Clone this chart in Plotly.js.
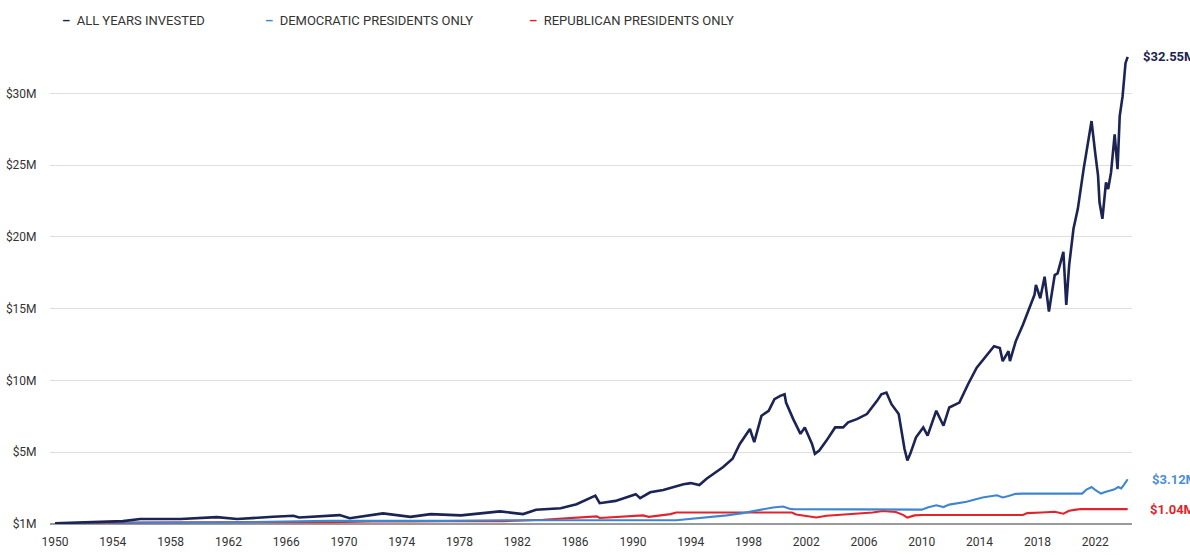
<!DOCTYPE html>
<html>
<head>
<meta charset="utf-8">
<script src="https://cdn.plot.ly/plotly-3.0.1.min.js"></script>
<style>html,body{margin:0;padding:0;background:#fff;}#chart{width:1190px;height:555px;}</style>
</head>
<body>
<div id="chart"></div>
<script>
// ---- data (values in $ millions, x in decimal years) ----
const yearsAll = [1950.0, 1952.0, 1954.7, 1955.9, 1958.7, 1961.2, 1962.6, 1965.1, 1966.5, 1966.9,
  1969.7, 1970.4, 1972.7, 1974.6, 1976.0, 1978.1, 1980.8, 1982.4, 1983.3, 1985.0,
  1986.1, 1987.4, 1987.7, 1988.8, 1990.2, 1990.5, 1991.2, 1992.1, 1993.5, 1994.0,
  1994.6, 1995.1, 1996.25, 1996.9, 1997.4, 1998.1, 1998.4, 1998.9, 1999.4, 1999.8,
  2000.2, 2000.5, 2000.6, 2001.1, 2001.6, 2001.9, 2002.4, 2002.6, 2002.9, 2003.4,
  2004.0, 2004.55, 2004.9, 2005.5, 2006.2, 2006.9, 2007.2, 2007.55, 2007.9, 2008.4,
  2008.6, 2008.8, 2009.0, 2009.2, 2009.6, 2010.1, 2010.4, 2011.0, 2011.5, 2011.9,
  2012.6, 2013.2, 2013.8, 2014.5, 2015.0, 2015.4, 2015.6, 2016.0, 2016.1, 2016.5,
  2017.0, 2017.8, 2017.9, 2018.2, 2018.5, 2018.8, 2019.2, 2019.4, 2019.8, 2020.0,
  2020.2, 2020.5, 2020.8, 2021.2, 2021.5, 2021.75, 2022.0, 2022.2, 2022.3, 2022.5,
  2022.75, 2022.9, 2023.1, 2023.35, 2023.55, 2023.7, 2023.9, 2024.1, 2024.25];
const valuesAll = [0.05, 0.12, 0.2, 0.35, 0.35, 0.48, 0.35, 0.5, 0.57, 0.45,
  0.62, 0.4, 0.74, 0.5, 0.69, 0.6, 0.88, 0.69, 0.99, 1.1,
  1.38, 1.98, 1.45, 1.61, 2.08, 1.8, 2.21, 2.37, 2.77, 2.85,
  2.72, 3.16, 3.97, 4.55, 5.58, 6.62, 5.7, 7.54, 7.89, 8.7,
  8.93, 9.04, 8.46, 7.31, 6.28, 6.73, 5.58, 4.89, 5.12, 5.81,
  6.73, 6.73, 7.08, 7.31, 7.66, 8.58, 9.04, 9.16, 8.35, 7.66,
  6.28, 5.24, 4.43, 4.89, 6.04, 6.73, 6.16, 7.89, 6.85, 8.12,
  8.46, 9.74, 10.89, 11.81, 12.39, 12.27, 11.35, 12.04, 11.35, 12.73,
  13.89, 15.97, 16.66, 15.73, 17.23, 14.81, 17.35, 17.46, 18.96, 15.27,
  18.04, 20.57, 21.96, 24.73, 26.57, 28.08, 25.88, 24.27, 22.42, 21.27,
  23.81, 23.34, 24.5, 27.15, 24.73, 28.42, 29.81, 32.11, 32.55];

const yearsDem = [1950, 1953, 1961, 1966, 1969, 1977, 1981, 1993, 1995.3, 1996.5,
  1997.6, 1998.8, 1999.7, 2000.4, 2000.9, 2001.1, 2009.1, 2010.0, 2010.4, 2011.0,
  2011.5, 2011.9, 2013.1, 2014.2, 2015.2, 2015.6, 2016.0, 2016.5, 2017.0, 2021.1,
  2021.4, 2021.75, 2022.0, 2022.4, 2022.75, 2023.3, 2023.6, 2023.8, 2024.0, 2024.25];
const valuesDem = [0.05, 0.1, 0.1, 0.2, 0.22, 0.22, 0.26, 0.26, 0.46, 0.6,
  0.76, 1.0, 1.15, 1.22, 1.05, 1.04, 1.04, 1.0, 1.15, 1.3,
  1.18, 1.35, 1.55, 1.85, 2.0, 1.85, 1.95, 2.1, 2.12, 2.12,
  2.4, 2.58, 2.38, 2.12, 2.24, 2.4, 2.58, 2.48, 2.75, 3.12];

const yearsRep = [1950, 1953, 1957, 1961, 1969, 1973, 1974.6, 1977, 1981, 1983.8,
  1985.4, 1987.5, 1987.7, 1989.5, 1990.7, 1991.1, 1992.6, 1993.0, 2001.0, 2001.3,
  2002.7, 2003.4, 2004.3, 2006.6, 2007.3, 2008.2, 2008.7, 2009.0, 2009.5, 2010.0,
  2017.0, 2017.3, 2018.3, 2019.2, 2019.8, 2020.2, 2020.7, 2021.0, 2024.25];
const valuesRep = [0.05, 0.05, 0.1, 0.12, 0.12, 0.2, 0.17, 0.2, 0.2, 0.3,
  0.42, 0.53, 0.42, 0.53, 0.6, 0.5, 0.69, 0.8, 0.8, 0.66,
  0.45, 0.57, 0.64, 0.8, 0.91, 0.84, 0.64, 0.45, 0.6, 0.63,
  0.63, 0.76, 0.8, 0.85, 0.72, 0.92, 1.0, 1.04, 1.04];

const seriesNames = ['ALL YEARS INVESTED', 'DEMOCRATIC PRESIDENTS ONLY', 'REPUBLICAN PRESIDENTS ONLY'];
const endLabels = ['$32.55M', '$3.12M', '$1.04M'];
const xTickYears = [1950, 1954, 1958, 1962, 1966, 1970, 1974, 1978, 1982, 1986, 1990, 1994, 1998, 2002, 2006, 2010, 2014, 2018, 2022];
const yTickVals = [0, 5, 10, 15, 20, 25, 30];
const yTickText = ['$1M', '$5M', '$10M', '$15M', '$20M', '$25M', '$30M'];

// ---- styling ----
const colors = ['#1b2452', '#3f86cf', '#e1242c'];
const labelColors = ['#1b2452', '#4a8fd6', '#e1242c'];
const widths = [2.6, 2.1, 2.1];
const labelShift = [13, 22, 20];
const xs = [yearsAll, yearsDem, yearsRep];
const ys = [valuesAll, valuesDem, valuesRep];
const FONT = 'Roboto, "Liberation Sans", sans-serif';

const traces = [2, 1, 0].map(i => ({
  type: 'scatter', mode: 'lines', x: xs[i], y: ys[i], name: seriesNames[i],
  line: {color: colors[i], width: widths[i]}, hoverinfo: 'skip', showlegend: false, cliponaxis: false
}));

const annotations = [];
// legend as text
const legendX = [60, 263, 527];
seriesNames.forEach((n, i) => {
  annotations.push({
    xref: 'paper', yref: 'paper', x: (legendX[i] - 50) / 1082, y: 1, yshift: 30,
    xanchor: 'left', yanchor: 'middle', showarrow: false,
    text: '<span style="color:' + colors[i] + '"><b>–</b></span>  ' + n,
    font: {family: FONT, size: 13, color: '#333'}
  });
});
// end labels
[0, 1, 2].forEach(i => {
  const xArr = xs[i], yArr = ys[i];
  annotations.push({
    x: xArr[xArr.length - 1], y: yArr[yArr.length - 1], xanchor: 'left', yanchor: 'middle',
    xshift: labelShift[i], showarrow: false, text: '<b>' + endLabels[i] + '</b>',
    font: {family: FONT, size: 13, color: labelColors[i]}
  });
});

const layout = {
  width: 1190, height: 555,
  margin: {l: 50, r: 58, t: 50, b: 31},
  paper_bgcolor: '#fff', plot_bgcolor: '#fff',
  showlegend: false,
  font: {family: FONT, size: 12, color: '#333'},
  xaxis: {
    range: [1949.65, 2024.55], tickmode: 'array', tickvals: xTickYears,
    ticktext: xTickYears.map(String), showgrid: false, zeroline: false,
    showline: false, ticks: 'outside', ticklen: 7, tickcolor: 'rgba(0,0,0,0)',
    tickfont: {family: FONT, size: 12, color: '#333'}
  },
  yaxis: {
    range: [0, 33.03], tickmode: 'array', tickvals: yTickVals, ticktext: yTickText,
    showgrid: true, gridcolor: '#e3dede', gridwidth: 1,
    zeroline: true, zerolinecolor: '#9a9a9a', zerolinewidth: 2,
    showline: false, ticks: 'outside', ticklen: 10, tickcolor: 'rgba(0,0,0,0)',
    tickfont: {family: FONT, size: 12, color: '#333'}
  },
  annotations: annotations
};

Plotly.newPlot('chart', traces, layout, {displayModeBar: false, staticPlot: true});
</script>
</body>
</html>
